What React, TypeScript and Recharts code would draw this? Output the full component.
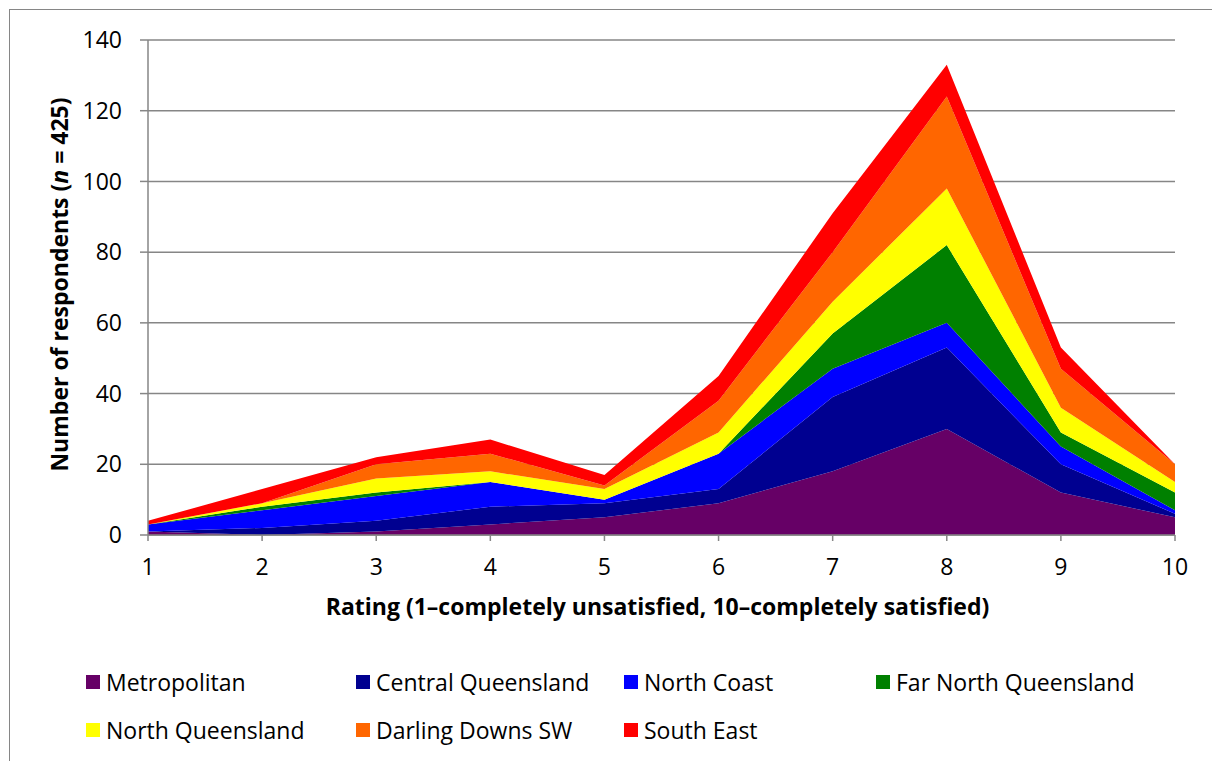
import { AreaChart, Area, XAxis, YAxis, CartesianGrid, Label } from 'recharts'

const RATINGS = [1, 2, 3, 4, 5, 6, 7, 8, 9, 10]

const METROPOLITAN = [1, 0, 1, 3, 5, 9, 18, 30, 12, 5]
const CENTRAL_QLD = [0, 2, 3, 5, 4, 4, 21, 23, 8, 1]
const NORTH_COAST = [2, 5, 7, 7, 1, 10, 8, 7, 5, 1]
const FAR_NORTH_QLD = [0, 1, 1, 0, 0, 0, 10, 22, 4, 5]
const NORTH_QLD = [0, 1, 4, 3, 3, 6, 9, 16, 7, 3]
const DARLING_DOWNS_SW = [0, 0, 4, 5, 1, 9, 14, 26, 11, 5]
const SOUTH_EAST = [1, 4, 2, 4, 3, 7, 11, 9, 6, 0]

const Y_TICKS = [0, 20, 40, 60, 80, 100, 120, 140]

const SERIES = [
  { key: 'metro', name: 'Metropolitan', values: METROPOLITAN },
  { key: 'central', name: 'Central Queensland', values: CENTRAL_QLD },
  { key: 'northCoast', name: 'North Coast', values: NORTH_COAST },
  { key: 'farNorth', name: 'Far North Queensland', values: FAR_NORTH_QLD },
  { key: 'northQld', name: 'North Queensland', values: NORTH_QLD },
  { key: 'darling', name: 'Darling Downs SW', values: DARLING_DOWNS_SW },
  { key: 'southEast', name: 'South East', values: SOUTH_EAST },
]

const COLORS = ['#660066', '#000090', '#0000FF', '#008000', '#FFFF00', '#FF6600', '#FF0000']

const FONT = '"Open Sans", "Noto Sans", sans-serif'
const GRID = '#868686'

// legend is laid out like the Excel original: 4 uneven columns, 2 rows
const LEGEND_COL_X = [76, 346, 614, 866]
const LEGEND_ROW_Y = [660, 708]

const data = RATINGS.map((r, i) => {
  const row: Record<string, number> = { rating: r }
  SERIES.forEach(s => { row[s.key] = s.values[i] })
  return row
})

/* eslint-disable @typescript-eslint/no-explicit-any */
function YTitle({ viewBox }: any) {
  const cx = viewBox.x + 49
  const cy = viewBox.y + viewBox.height / 2 - 3
  return (
    <text x={cx} y={cy} transform={`rotate(-90 ${cx} ${cy})`} textAnchor="middle"
          dominantBaseline="central" fill="#000" fontFamily={FONT} fontSize={23} fontWeight={700}>
      Number of respondents (<tspan fontStyle="italic">n</tspan> = 425)
    </text>
  )
}

function XTitle({ viewBox }: any) {
  return (
    <text x={viewBox.x + viewBox.width / 2 - 4} y={viewBox.y + 80} textAnchor="middle"
          fill="#000" fontFamily={FONT} fontSize={23} fontWeight={700}>
      Rating (1–completely unsatisfied, 10–completely satisfied)
    </text>
  )
}

export default function App() {
  return (
    <div style={{
      position: 'absolute', left: 9, top: 9, width: 1202, height: 751,
      borderLeft: `1px solid ${GRID}`, borderTop: `1px solid ${GRID}`,
      fontFamily: FONT, background: '#fff',
    }}>
      <AreaChart width={1202} height={751} data={data}
                 margin={{ top: 30, right: 37, left: 0, bottom: 0 }}>
        <CartesianGrid vertical={false} stroke={GRID} strokeWidth={1.5} />
        <XAxis dataKey="rating" height={226}
          axisLine={{ stroke: GRID, strokeWidth: 1.5 }}
          tickLine={{ stroke: GRID, strokeWidth: 1.5 }} tickSize={6} tickMargin={18}
          tick={{ fill: '#000', fontSize: 23, fontFamily: FONT }}>
          <Label content={<XTitle />} />
        </XAxis>
        <YAxis width={138} domain={[0, 140]} ticks={Y_TICKS} interval={0}
          axisLine={{ stroke: GRID, strokeWidth: 1.5 }}
          tickLine={{ stroke: GRID, strokeWidth: 1.5 }} tickSize={8} tickMargin={18}
          tick={{ fill: '#000', fontSize: 23, fontFamily: FONT }}>
          <Label content={<YTitle />} />
        </YAxis>
        {SERIES.map((s, i) => (
          <Area key={s.key} dataKey={s.key} name={s.name} stackId="all" type="linear"
                fill={COLORS[i]} fillOpacity={1} stroke="none"
                isAnimationActive={false} dot={false} activeDot={false} />
        ))}
      </AreaChart>
      {SERIES.map((s, i) => (
        <div key={s.key} style={{
          position: 'absolute', left: LEGEND_COL_X[i % 4], top: LEGEND_ROW_Y[Math.floor(i / 4)],
          display: 'flex', alignItems: 'center', height: 24,
        }}>
          <span style={{ width: 14, height: 14, background: COLORS[i], marginRight: 6 }} />
          <span style={{ fontSize: 23, lineHeight: '24px', color: '#000' }}>{s.name}</span>
        </div>
      ))}
    </div>
  )
}
